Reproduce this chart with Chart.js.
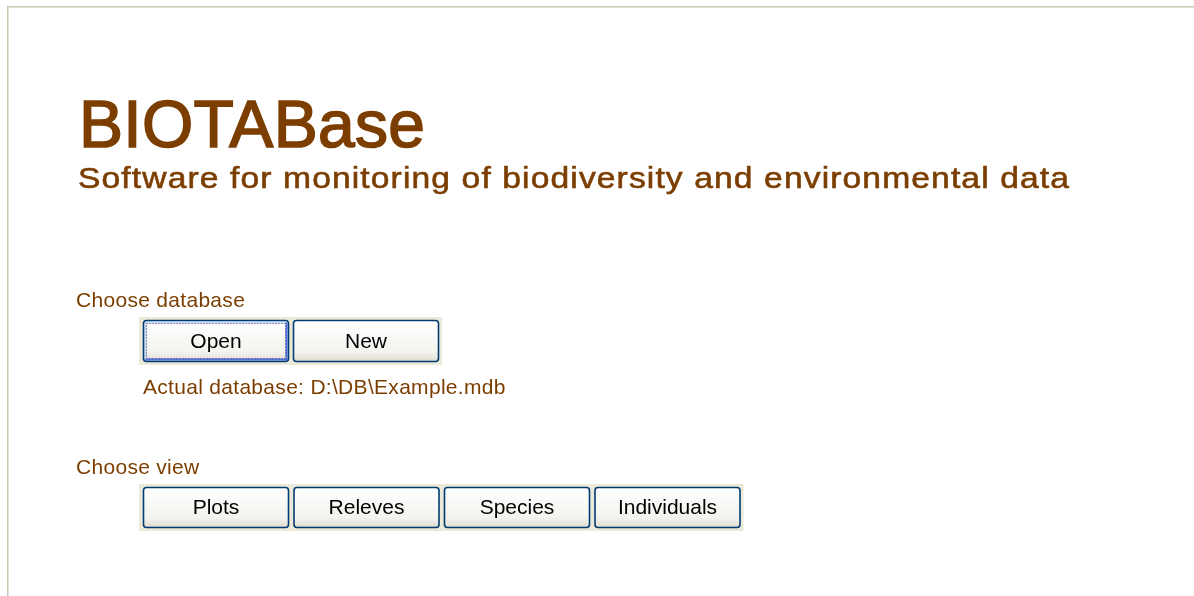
<!DOCTYPE html>
<html>
<head>
<meta charset="utf-8">
<script src="https://cdn.jsdelivr.net/npm/chart.js@4.4.1/dist/chart.umd.min.js"></script>
<style>
  html, body { margin: 0; padding: 0; background: #fff; overflow: hidden; }
  #wrap { width: 1194px; height: 596px; }
</style>
</head>
<body>
<div id="wrap"><canvas id="screen"></canvas></div>
<script>
// texts of the start form
const title = "BIOTABase";
const subtitle = "Software for monitoring of biodiversity and environmental data";
const dbLabel = "Choose database";
const dbButtons = ["Open", "New"];
const dbPath = "Actual database: D:\\DB\\Example.mdb";
const viewLabel = "Choose view";
const viewButtons = ["Plots", "Releves", "Species", "Individuals"];

const BROWN = "#7c3e00";
const FONT = "'Liberation Sans', Arial, sans-serif";

// text with letter spacing, horizontal stretch and a thin outline for weight
function text(ctx, str, x, y, size, spacing, weight, stretch) {
  const sx = stretch || 1;
  ctx.save();
  ctx.translate(x, y);
  ctx.scale(sx, 1);
  ctx.font = size + "px " + FONT;
  ctx.letterSpacing = spacing + "px";
  ctx.fillText(str, 0, 0);
  if (weight) {
    ctx.lineWidth = weight;
    ctx.strokeStyle = ctx.fillStyle;
    ctx.strokeText(str, 0, 0);
  }
  ctx.restore();
}

function drawButton(ctx, x, y, w, h, label, focused) {
  const r = 3;
  const g = ctx.createLinearGradient(0, y, 0, y + h);
  g.addColorStop(0, "#ffffff");
  g.addColorStop(0.75, "#f3f3ef");
  g.addColorStop(0.9, "#e8e6dc");
  g.addColorStop(1, "#d8d2c2");
  ctx.beginPath();
  ctx.roundRect(x + 0.5, y + 0.5, w - 1, h - 1, r);
  ctx.fillStyle = g;
  ctx.fill();

  if (focused) {
    ctx.lineWidth = 2;
    ctx.strokeStyle = "#c6dafa";
    ctx.beginPath();
    ctx.moveTo(x + 2.5, y + h - 3);
    ctx.lineTo(x + 2.5, y + 2.5);
    ctx.lineTo(x + w - 3, y + 2.5);
    ctx.stroke();
    ctx.strokeStyle = "#4f74e2";
    ctx.beginPath();
    ctx.moveTo(x + w - 2.5, y + 2.5);
    ctx.lineTo(x + w - 2.5, y + h - 2.5);
    ctx.lineTo(x + 2.5, y + h - 2.5);
    ctx.stroke();
    // dotted focus rectangle
    ctx.lineWidth = 1;
    ctx.setLineDash([1, 2]);
    ctx.strokeStyle = "#4a2a6a";
    ctx.strokeRect(x + 3.5, y + 3.5, w - 7, h - 7);
    ctx.setLineDash([]);
  }

  ctx.lineWidth = 1.6;
  ctx.strokeStyle = "#003c74";
  ctx.beginPath();
  ctx.roundRect(x + 0.5, y + 0.5, w - 1, h - 1, r);
  ctx.stroke();

  ctx.fillStyle = "#000";
  ctx.textAlign = "center";
  ctx.textBaseline = "middle";
  text(ctx, label, x + w / 2, y + h / 2 + 1, 21, 0, 0);
}

function drawRow(ctx, labels, x0, y0, w, h, step, focusIndex) {
  ctx.fillStyle = "#ece9d8";
  ctx.fillRect(x0 - 4, y0 - 3, step * (labels.length - 1) + w + 7, h + 6);
  labels.forEach((lab, i) => drawButton(ctx, x0 + i * step, y0, w, h, lab, i === focusIndex));
}

const formPlugin = {
  id: "form",
  afterDraw(chart) {
    const ctx = chart.ctx;
    ctx.save();
    ctx.fillStyle = "#fff";
    ctx.fillRect(0, 0, chart.width, chart.height);

    // window frame (top and left edges)
    ctx.fillStyle = "#c9c9b6";
    ctx.fillRect(7, 6, chart.width - 7, 1);
    ctx.fillRect(7, 6, 1, chart.height - 6);
    ctx.fillStyle = "#e3e3d6";
    ctx.fillRect(8, 7, chart.width - 8, 1);
    ctx.fillRect(8, 7, 1, chart.height - 7);

    ctx.textAlign = "left";
    ctx.textBaseline = "alphabetic";
    ctx.fillStyle = BROWN;
    text(ctx, title, 79, 147, 66, 0.3, 1.6);
    text(ctx, subtitle, 78, 188, 30, 1.0, 0.6, 1.12);

    text(ctx, dbLabel, 76, 307, 21, 0.3, 0);
    text(ctx, dbPath, 143, 394, 21, 0.3, 0);
    text(ctx, viewLabel, 76, 474, 21, 0.3, 0);

    drawRow(ctx, dbButtons, 143, 320, 146, 42, 150, 0);
    drawRow(ctx, viewButtons, 143, 487, 146, 41, 150.5, -1);
    ctx.restore();
  }
};

new Chart(document.getElementById("screen"), {
  type: "bar",
  data: { labels: [], datasets: [] },
  options: {
    responsive: true,
    maintainAspectRatio: false,
    animation: false,
    events: [],
    plugins: { legend: { display: false }, tooltip: { enabled: false } },
    scales: { x: { display: false }, y: { display: false } }
  },
  plugins: [formPlugin]
});
</script>
</body>
</html>
